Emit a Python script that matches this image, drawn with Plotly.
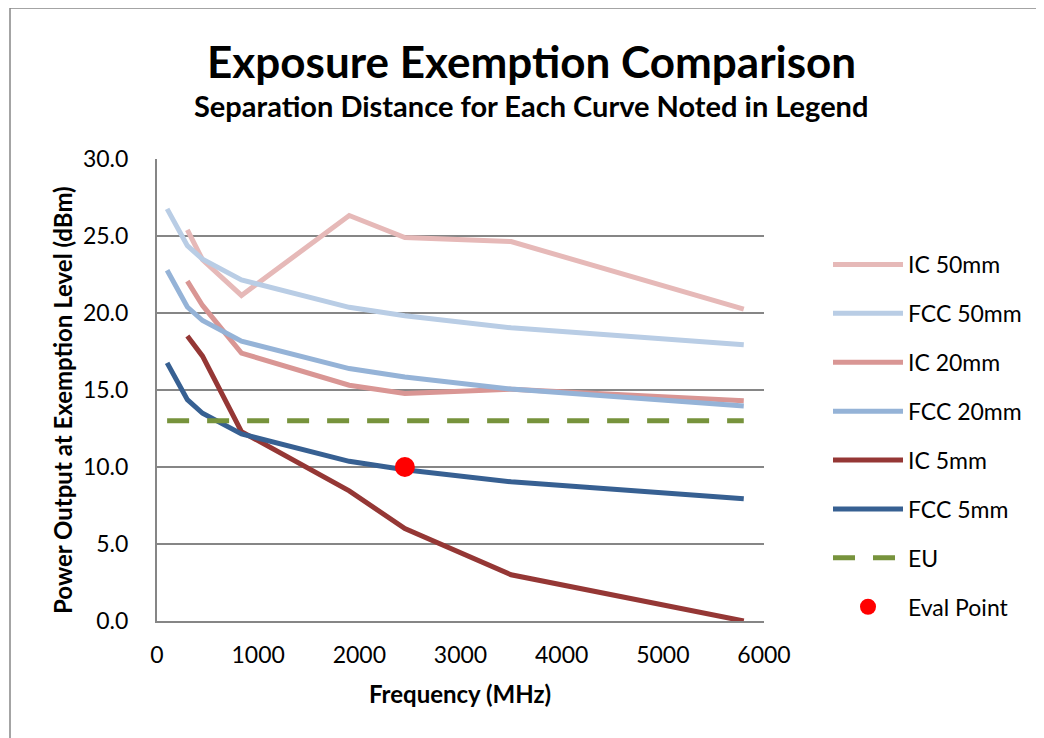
import plotly.graph_objects as go

fcc_freq = [100, 300, 450, 835, 1900, 2450, 3500, 5800]
ic_freq = [300, 450, 835, 1900, 2450, 3500, 5800]

ic_50 = [25.4, 23.46, 21.14, 26.33, 24.9, 24.64, 20.25]
fcc_50 = [26.76, 24.37, 23.49, 22.15, 20.37, 19.82, 19.04, 17.94]
ic_20 = [22.07, 20.49, 17.40, 15.31, 14.77, 15.05, 14.31]
fcc_20 = [22.78, 20.39, 19.51, 18.17, 16.39, 15.84, 15.06, 13.96]
ic_5 = [18.5, 17.2, 12.3, 8.45, 6.0, 3.0, 0.0]
fcc_5 = [16.76, 14.37, 13.49, 12.15, 10.37, 9.82, 9.04, 7.94]
eu_freq = [100, 5800]
eu_level = [13.0, 13.0]
eval_freq = [2450]
eval_level = [10.0]

series = [
    ("IC 50mm", ic_freq, ic_50, "#E6B9B8"),
    ("FCC 50mm", fcc_freq, fcc_50, "#B9CDE5"),
    ("IC 20mm", ic_freq, ic_20, "#D99694"),
    ("FCC 20mm", fcc_freq, fcc_20, "#95B3D7"),
    ("IC 5mm", ic_freq, ic_5, "#953735"),
    ("FCC 5mm", fcc_freq, fcc_5, "#376092"),
]

FONT = "Lato"
PW, PH = 607, 462  # plot area size in px


def px(x):
    return (x - 157) / PW


def py(y):
    return (621 - y) / PH


fig = go.Figure()
for i, (name, xs, ys, col) in enumerate(series):
    fig.add_trace(go.Scatter(x=xs, y=ys, mode="lines", name=name,
                             legendgroup=f"g{i}",
                             line=dict(color=col, width=5)))
fig.add_trace(go.Scatter(x=eu_freq, y=eu_level, mode="lines", name="EU",
                         legendgroup="g6",
                         line=dict(color="#77933C", width=5, dash="22px,18px")))
fig.add_trace(go.Scatter(x=eval_freq, y=eval_level, mode="markers", name="Eval Point",
                         legendgroup="g7",
                         marker=dict(color="#FF0000", size=20)))

fig.update_layout(
    width=1036, height=730,
    margin=dict(l=149, r=280, t=151, b=117),
    paper_bgcolor="white", plot_bgcolor="white",
    font=dict(family=FONT, color="black", size=23),
    showlegend=True,
    legend=dict(x=px(828), xanchor="left", y=py(436), yanchor="middle",
                font=dict(size=23, family=FONT), tracegroupgap=16,
                itemwidth=70,
                bgcolor="rgba(0,0,0,0)"),
    xaxis=dict(range=[0, 6000], dtick=1000, showgrid=False,
               showline=True, linecolor="#868686", linewidth=2,
               ticks="", tickfont=dict(size=23), zeroline=False,
               ticklabelstandoff=12),
    yaxis=dict(range=[0, 30], dtick=5, tickformat=".1f", showgrid=True,
               gridcolor="#868686", gridwidth=1.5,
               showline=True, linecolor="#868686", linewidth=2,
               ticks="", tickfont=dict(size=23), zeroline=False,
               ticklabelstandoff=22),
)

fig.add_annotation(text="<b>Exposure Exemption Comparison</b>", xref="paper", yref="paper",
                   x=px(531), y=py(61), showarrow=False,
                   font=dict(size=44, family=FONT), xanchor="center", yanchor="middle")
fig.add_annotation(text="<b>Separation Distance for Each Curve Noted in Legend</b>", xref="paper", yref="paper",
                   x=px(531), y=py(106), showarrow=False,
                   font=dict(size=29, family=FONT), xanchor="center", yanchor="middle")
fig.add_annotation(text="<b>Frequency (MHz)</b>", xref="paper", yref="paper",
                   x=px(460), y=py(693), showarrow=False,
                   font=dict(size=24, family=FONT), xanchor="center", yanchor="middle")
fig.add_annotation(text="<b>Power Output at Exemption Level (dBm)</b>", xref="paper", yref="paper",
                   x=px(62), y=py(400), showarrow=False, textangle=-90,
                   font=dict(size=24, family=FONT), xanchor="center", yanchor="middle")

# outer chart border
fig.add_shape(type="rect", xref="paper", yref="paper",
              x0=px(10), x1=px(1041),
              y0=py(760), y1=py(8),
              line=dict(color="#868686", width=1.5), layer="below")

fig.write_html("out.html")
